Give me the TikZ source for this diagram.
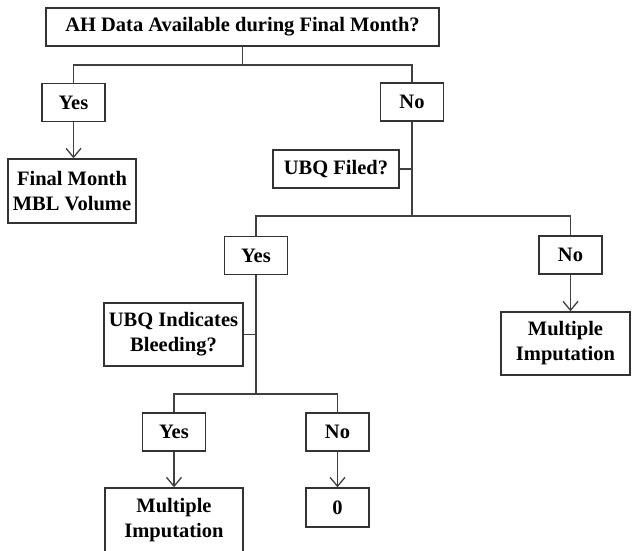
\documentclass[tikz,border=0pt]{standalone}
\usepackage{fontspec}
\setmainfont{Liberation Serif}
\usetikzlibrary{arrows.meta}

\begin{document}
\begin{tikzpicture}[
    x=1pt, y=-1pt,
    box/.style={draw=black!80, fill=white, line width=1.4pt, inner sep=0pt, align=center, font=\fontsize{20.5}{25}\selectfont\bfseries},
    answer/.style={box, minimum width=63pt, minimum height=38pt},
    link/.style={line width=1.3pt, draw=black!75},
    arrowlink/.style={link, -{Straight Barb[length=9pt, width=15pt, line width=1.3pt]}}
]
    \useasboundingbox (0,0) rectangle (632,550);

    % --- First question: AH data ---
    \node[box, minimum width=393pt, minimum height=38pt] (ahdata) at (242.5,27) {AH Data Available during Final Month?};
    \node[answer] (yes1) at (73.5,102.5) {Yes};
    \node[answer] (no1) at (412,102) {No};
    \node[box, minimum width=128pt, minimum height=64pt] (final) at (72,191) {Final Month\\MBL Volume};
    \coordinate (split1) at (242.5,65);
    \draw[link] (ahdata) -- (split1);
    \draw[link] (yes1.north) |- (split1) -| (no1.north);

    % --- Second question: UBQ filed ---
    \node[box, minimum width=126pt, minimum height=38pt] (ubqfiled) at (336,169) {UBQ Filed?};
    \coordinate (split2) at (412,216);
    \draw[link] (no1) -- (split2);
    \draw[link] (ubqfiled) -- (ubqfiled -| split2);
    \node[answer] (yes2) at (256,255.5) {Yes};
    \node[answer] (no2) at (570.5,255) {No};
    \draw[link] (yes2.north) |- (split2) -| (no2.north);
    \node[box, minimum width=129pt, minimum height=63pt] (mi1) at (565.5,343.5) {Multiple\\Imputation};

    % --- Third question: UBQ bleeding ---
    \node[box, minimum width=139pt, minimum height=63pt] (ubqbleed) at (173.5,334.5) {UBQ Indicates\\Bleeding?};
    \coordinate (split3) at (256,394);
    \draw[link] (yes2) -- (split3);
    \draw[link] (ubqbleed) -- (ubqbleed -| split3);
    \node[answer] (yes3) at (174,432) {Yes};
    \node[answer] (no3) at (337.5,432) {No};
    \draw[link] (yes3.north) |- (split3) -| (no3.north);
    \node[box, minimum width=138pt, minimum height=64pt] (mi2) at (174,520) {Multiple\\Imputation};
    \node[answer, minimum height=39pt] (zero) at (337.5,507.5) {0};

    % Arrows to outcomes
    \foreach \a/\b in {yes1/final, no2/mi1, yes3/mi2, no3/zero} {
        \draw[arrowlink] (\a.south) -- (\a.south |- \b.north);
    }

\end{tikzpicture}
\end{document}
